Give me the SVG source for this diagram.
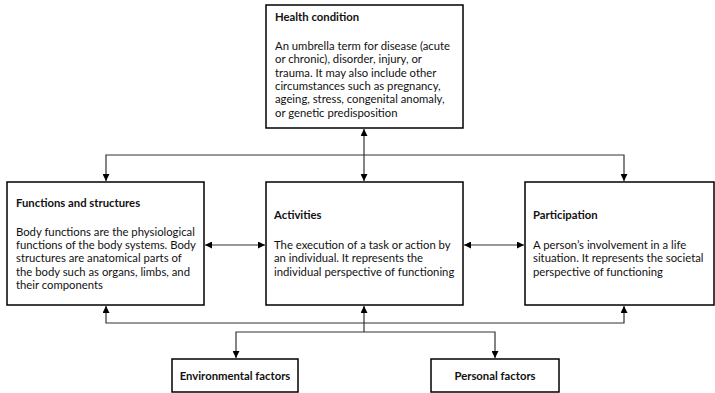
<svg xmlns="http://www.w3.org/2000/svg" width="715" height="393" viewBox="0 0 715 393">
<style>
.box{fill:#fff;stroke:#000;stroke-width:1.5}
.c{fill:none;stroke:#333;stroke-width:1.2}
text{font-family:Lato,"Open Sans","Liberation Sans",sans-serif;font-size:11.3px;fill:#111}
.t{font-weight:bold}
.m{text-anchor:middle}
</style>
<defs>
<marker id="ah" viewBox="0 0 10 10" refX="10" refY="5" markerWidth="7" markerHeight="7" markerUnits="userSpaceOnUse" orient="auto-start-reverse">
<path d="M0,0 L10,5 L0,10 z" fill="#000"/>
</marker>
</defs>
<g id="connectors">
<path class="c" d="M364,129 V181" marker-start="url(#ah)" marker-end="url(#ah)"/>
<path class="c" d="M106,181 V155 H624 V181" marker-start="url(#ah)" marker-end="url(#ah)"/>
<path class="c" d="M205,245 H265" marker-start="url(#ah)" marker-end="url(#ah)"/>
<path class="c" d="M464,245 H524" marker-start="url(#ah)" marker-end="url(#ah)"/>
<path class="c" d="M106,306 V323 H624 V306" marker-start="url(#ah)" marker-end="url(#ah)"/>
<path class="c" d="M364,332 V306" marker-end="url(#ah)"/>
<path class="c" d="M236,358 V332 H495 V358" marker-start="url(#ah)" marker-end="url(#ah)"/>
</g>
<g id="health">
<rect class="box" x="266" y="5" width="197" height="123"/>
<text class="t" x="275" y="21">Health condition</text>
<text x="275" y="50">An umbrella term for disease (acute</text>
<text x="275" y="63.3">or chronic), disorder, injury, or</text>
<text x="275" y="76.7">trauma. It may also include other</text>
<text x="275" y="90">circumstances such as pregnancy,</text>
<text x="275" y="103.3">ageing, stress, congenital anomaly,</text>
<text x="275" y="116.7">or genetic predisposition</text>
</g>
<g id="functions">
<rect class="box" x="7" y="182" width="197" height="123"/>
<text class="t" x="16" y="207">Functions and structures</text>
<text x="16" y="235.5">Body functions are the physiological</text>
<text x="16" y="249">functions of the body systems. Body</text>
<text x="16" y="262.3">structures are anatomical parts of</text>
<text x="16" y="275.7">the body such as organs, limbs, and</text>
<text x="16" y="289">their components</text>
</g>
<g id="activities">
<rect class="box" x="266" y="182" width="197" height="123"/>
<text class="t" x="274" y="219">Activities</text>
<text x="274" y="249">The execution of a task or action by</text>
<text x="274" y="262.3">an individual. It represents the</text>
<text x="274" y="275.7">individual perspective of functioning</text>
</g>
<g id="participation">
<rect class="box" x="525" y="182" width="189" height="123"/>
<text class="t" x="533" y="219">Participation</text>
<text x="533" y="249">A person’s involvement in a life</text>
<text x="533" y="262.3">situation. It represents the societal</text>
<text x="533" y="275.7">perspective of functioning</text>
</g>
<g id="environmental">
<rect class="box" x="172" y="359" width="126" height="33"/>
<text class="t m" x="235" y="380">Environmental factors</text>
</g>
<g id="personal">
<rect class="box" x="431" y="359" width="128" height="33"/>
<text class="t m" x="495" y="380">Personal factors</text>
</g>
</svg>
